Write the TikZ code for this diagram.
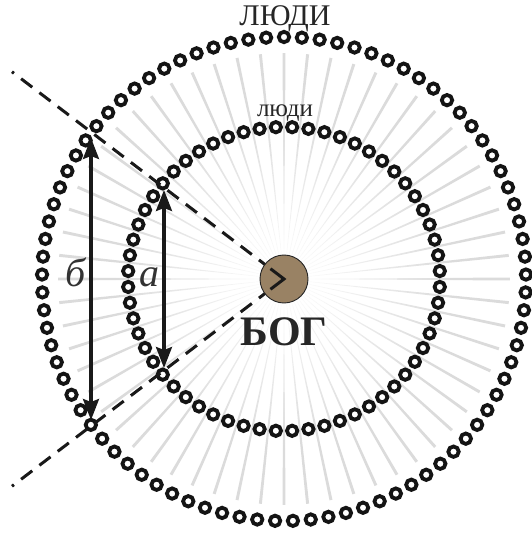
\documentclass[tikz,border=0pt]{standalone}
\usepackage{fontspec}
\setmainfont{Liberation Serif}
\usepackage{xcolor}
\usepackage{tikz}
\usetikzlibrary{arrows.meta,positioning,fadings,calc}

\definecolor{godbrown}{RGB}{153,130,100}
\tikzfading[name=glowfade, inner color=transparent!0, outer color=transparent!100]

\begin{document}
\begin{tikzpicture}[
  x=1pt, y=1pt,
  >={Stealth[length=21pt, width=16pt, inset=3pt]},
  ray/.style={fill=black!14, draw=none},
  ringdot/.style={draw=black!92, line width=3.8pt},
  god/.style={circle, fill=godbrown, draw=black!85, line width=0.9pt,
    minimum size=48pt, inner sep=0pt},
  dashline/.style={line width=3pt, draw=black!90,
    dash pattern=on 14pt off 9pt, dash phase=11.5pt},
  span/.style={<->, line width=3.2pt, draw=black!90},
  lbl/.style={font=\itshape\fontsize{40}{40}\selectfont, text=black!80, anchor=base},
]
\useasboundingbox (-284,-254) rectangle (247,279);

% rays and the glow round the centre
\foreach \a in {0,6,...,354}
  \fill[ray] (0,0) -- (\a+0.38:226) -- (\a-0.38:226) -- cycle;
\fill[white, path fading=glowfade] (0,0) circle (170);

% the two rings of people
\foreach \i in {0,...,84}
  \draw[ringdot] (90+360/85*\i:242) circle [radius=5.2pt];
\foreach \i in {0,...,59}
  \draw[ringdot] (93+\i*6:156 and 152) circle [radius=5.2pt];

\node[font=\fontsize{30}{30}\selectfont, text=black!85, anchor=base] (outerlbl) at (1,253) {ЛЮДИ};
\node[font=\fontsize{25}{25}\selectfont, text=black!85, anchor=base] (innerlbl) at (1,162) {люди};

% lines of sight
\coordinate (c) at (0,0);
\coordinate (upEnd) at (142.7:342);
\coordinate (lowEnd) at (217.3:342);
\draw[dashline] (upEnd) -- (c);
\draw[dashline] (lowEnd) -- (c);

\node[god] (godc) at (c) {};
\draw[line width=3pt, draw=black!90] ($(c)!17pt!(upEnd)$) -- (c) -- ($(c)!17pt!(lowEnd)$);
\node[font=\bfseries\fontsize{42}{42}\selectfont, text=black!85, anchor=base] (godlbl) at (0,-66) {БОГ};

% the two spans
\coordinate (bTop) at (-193,141);
\coordinate (bBot) at (-193,-141);
\coordinate (aTop) at (-120,89);
\coordinate (aBot) at (-120,-89);
\draw[span] (bTop) -- (bBot);
\draw[span] (aTop) -- (aBot);
\node[lbl] (blbl) at (-208,-7) {б};
\node[lbl] (albl) at (-134,-7) {а};
\end{tikzpicture}
\end{document}
